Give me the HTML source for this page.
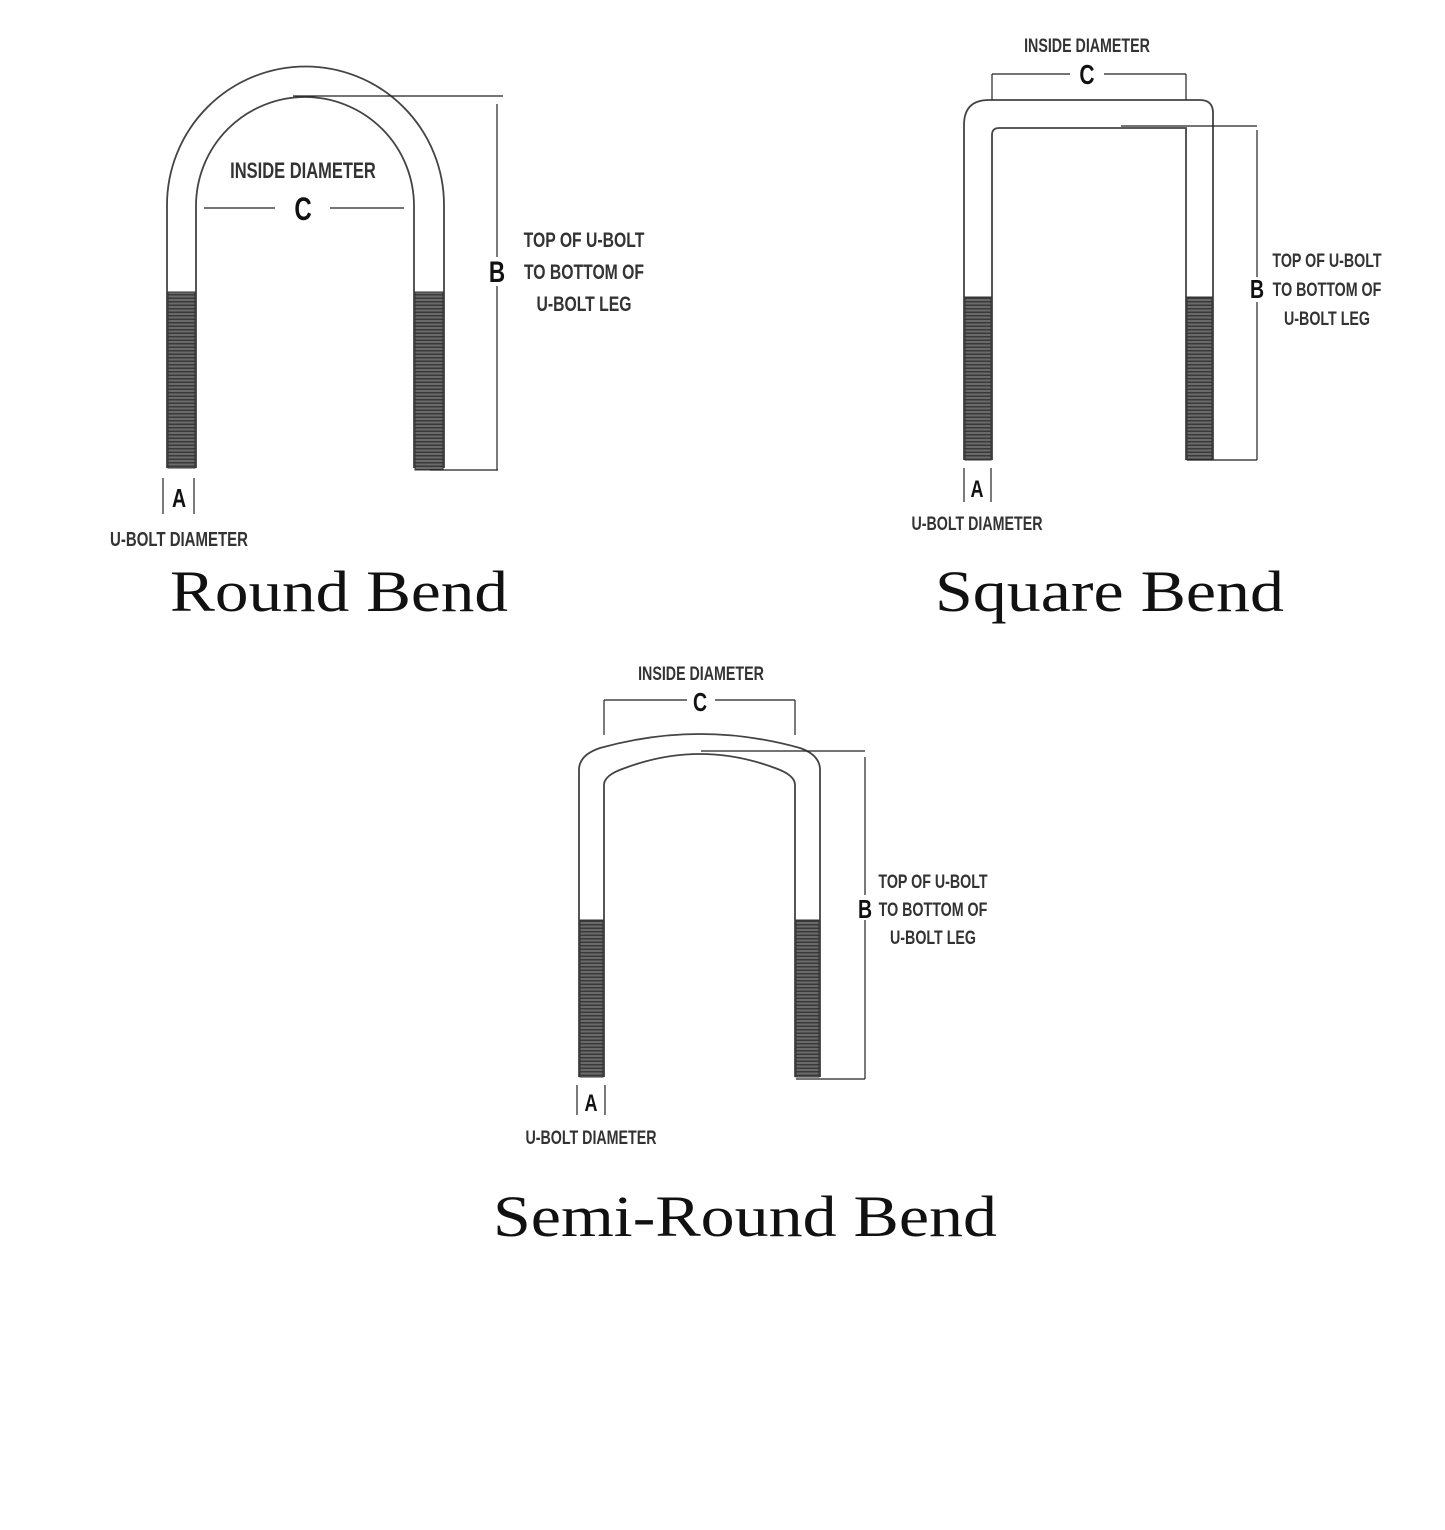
<!DOCTYPE html>
<html><head><style>
html,body{margin:0;padding:0;background:#fff;}
svg{display:block}
.l{font-family:"Liberation Sans",sans-serif;font-weight:bold;fill:#333;}
.t{font-family:"Liberation Serif",serif;fill:#111;}
</style></head><body>
<svg width="1445" height="1530" viewBox="0 0 1445 1530" xmlns="http://www.w3.org/2000/svg">
<defs>
<pattern id="th" width="6" height="3.5" patternUnits="userSpaceOnUse">
<rect width="6" height="3.5" fill="#6a6a6a"/>
<rect y="0" width="6" height="1.5" fill="#3a3a3a"/>
</pattern>
</defs>
<g fill="none" stroke="#444" stroke-width="1.8">
<path d="M167 468 V205 A138.5 138.5 0 0 1 444 205 V468"/>
<path d="M196 468 V206 A109 109 0 0 1 414 206 V468"/>
<path d="M964 460 V125 Q964 100 989 100 H1200 Q1213 100 1213 113 V460"/>
<path d="M992 460 V135 Q992 128 999 128 H1186 V460"/>
<path d="M579 1077 V770 Q579 755 600 748 Q700 720 800 748 Q820 755 820 770 V1077"/>
<path d="M604 1077 V785 Q604 775 625 768 Q700 740 775 768 Q795 775 795 785 V1077"/>
</g>
<g fill="url(#th)" stroke="#333" stroke-width="1">
<rect x="168" y="292" width="27" height="176"/>
<rect x="415" y="292" width="28" height="178"/>
<rect x="965" y="297" width="26" height="163"/>
<rect x="1187" y="297" width="25" height="163"/>
<rect x="580" y="920" width="23" height="157"/>
<rect x="796" y="920" width="23" height="157"/>
</g>
<g stroke="#222" stroke-width="1.2" fill="none">
<path d="M293 96 H503 M497 104 V257 M497 286 V470 M430 470 H498"/>
<path d="M204 208 H275 M330 208 H404"/>
<path d="M163 478 V514 M194 478 V514"/>
<path d="M1121 126 H1257 M1257 130 V277 M1257 302 V460 M1187 460 H1257"/>
<path d="M992 74 V100 M1186 74 V100 M992 74 H1070 M1104 74 H1186"/>
<path d="M964 468 V502 M991 468 V502"/>
<path d="M701 751 H865 M865 757 V895 M865 920 V1079 M796 1079 H865"/>
<path d="M604 700 V735 M795 700 V735 M604 700 H687 M715 700 H795"/>
<path d="M577 1085 V1115 M605 1085 V1115"/>
</g>
<g class="l">
<text x="303" y="178" font-size="22" text-anchor="middle" transform="translate(303 0) scale(0.75 1) translate(-303 0)">INSIDE DIAMETER</text>
<text x="303" y="220" font-size="32" text-anchor="middle" fill="#111" transform="translate(303 0) scale(0.75 1) translate(-303 0)">C</text>
<text x="497" y="282" font-size="30" text-anchor="middle" fill="#111" transform="translate(497 0) scale(0.75 1) translate(-497 0)">B</text>
<g font-size="21" text-anchor="middle">
<text x="584" y="247" transform="translate(584 0) scale(0.75 1) translate(-584 0)">TOP OF U-BOLT</text>
<text x="584" y="279" transform="translate(584 0) scale(0.75 1) translate(-584 0)">TO BOTTOM OF</text>
<text x="584" y="311" transform="translate(584 0) scale(0.75 1) translate(-584 0)">U-BOLT LEG</text>
</g>
<text x="179" y="507" font-size="26" text-anchor="middle" fill="#111" transform="translate(179 0) scale(0.75 1) translate(-179 0)">A</text>
<text x="179" y="546" font-size="20" text-anchor="middle" transform="translate(179 0) scale(0.75 1) translate(-179 0)">U-BOLT DIAMETER</text>

<text x="1087" y="52" font-size="19" text-anchor="middle" transform="translate(1087 0) scale(0.75 1) translate(-1087 0)">INSIDE DIAMETER</text>
<text x="1087" y="84" font-size="28" text-anchor="middle" fill="#111" transform="translate(1087 0) scale(0.75 1) translate(-1087 0)">C</text>
<text x="1257" y="298" font-size="26" text-anchor="middle" fill="#111" transform="translate(1257 0) scale(0.75 1) translate(-1257 0)">B</text>
<g font-size="19" text-anchor="middle">
<text x="1327" y="267" transform="translate(1327 0) scale(0.75 1) translate(-1327 0)">TOP OF U-BOLT</text>
<text x="1327" y="296" transform="translate(1327 0) scale(0.75 1) translate(-1327 0)">TO BOTTOM OF</text>
<text x="1327" y="325" transform="translate(1327 0) scale(0.75 1) translate(-1327 0)">U-BOLT LEG</text>
</g>
<text x="977" y="497" font-size="24" text-anchor="middle" fill="#111" transform="translate(977 0) scale(0.75 1) translate(-977 0)">A</text>
<text x="977" y="530" font-size="19" text-anchor="middle" transform="translate(977 0) scale(0.75 1) translate(-977 0)">U-BOLT DIAMETER</text>

<text x="701" y="680" font-size="19" text-anchor="middle" transform="translate(701 0) scale(0.75 1) translate(-701 0)">INSIDE DIAMETER</text>
<text x="700" y="711" font-size="26" text-anchor="middle" fill="#111" transform="translate(700 0) scale(0.75 1) translate(-700 0)">C</text>
<text x="865" y="918" font-size="26" text-anchor="middle" fill="#111" transform="translate(865 0) scale(0.75 1) translate(-865 0)">B</text>
<g font-size="19" text-anchor="middle">
<text x="933" y="888" transform="translate(933 0) scale(0.75 1) translate(-933 0)">TOP OF U-BOLT</text>
<text x="933" y="916" transform="translate(933 0) scale(0.75 1) translate(-933 0)">TO BOTTOM OF</text>
<text x="933" y="944" transform="translate(933 0) scale(0.75 1) translate(-933 0)">U-BOLT LEG</text>
</g>
<text x="591" y="1111" font-size="24" text-anchor="middle" fill="#111" transform="translate(591 0) scale(0.75 1) translate(-591 0)">A</text>
<text x="591" y="1144" font-size="19" text-anchor="middle" transform="translate(591 0) scale(0.75 1) translate(-591 0)">U-BOLT DIAMETER</text>
</g>
<g class="t" font-size="58">
<text x="170" y="611" textLength="338" lengthAdjust="spacingAndGlyphs">Round Bend</text>
<text x="935" y="611" textLength="349" lengthAdjust="spacingAndGlyphs">Square Bend</text>
<text x="493" y="1236" textLength="504" lengthAdjust="spacingAndGlyphs">Semi-Round Bend</text>
</g>
</svg>
</body></html>
